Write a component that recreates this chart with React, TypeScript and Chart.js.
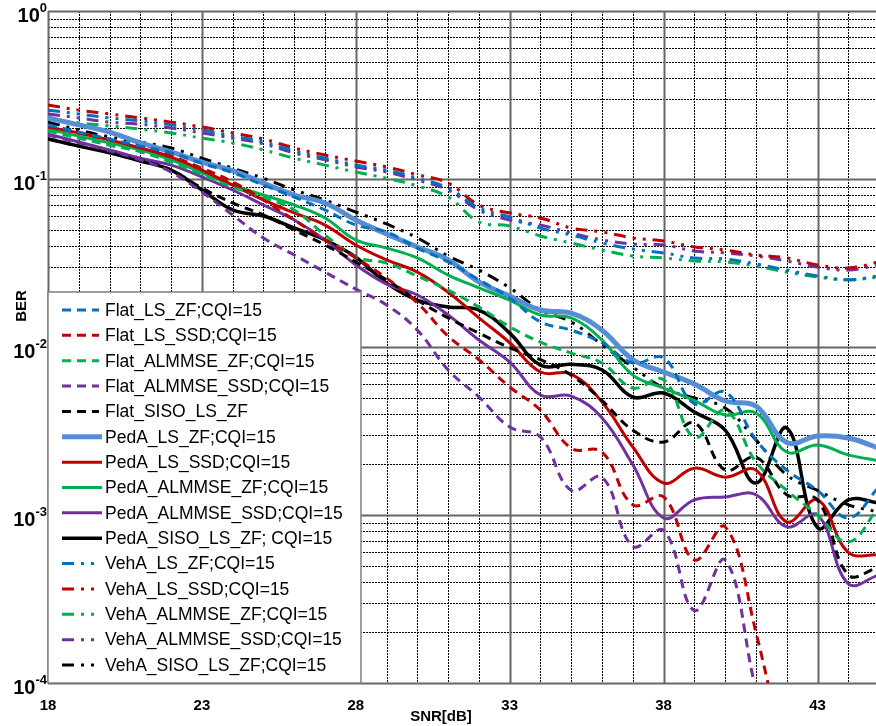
import React, { useEffect, useRef } from "react";
import { Chart, registerables } from "chart.js";
Chart.register(...registerables);

// ---------- data ----------
const snr = [18, 19, 20, 21, 22, 23, 24, 25, 26, 27, 28, 29, 30, 31, 32, 33, 34, 35, 36, 37, 38, 39, 40, 41, 42, 43, 44, 45];

const flatLsZf = [0.21, 0.19, 0.173, 0.157, 0.143, 0.124, 0.109, 0.092, 0.0781, 0.0654, 0.0532, 0.0484, 0.0388, 0.0321, 0.0251, 0.0196, 0.0141, 0.0126, 0.0106, 0.00803, 0.0086, 0.0046, 0.0054, 0.0028, 0.00185, 0.0014, 0.00096, 0.00147];
const flatLsSsd = [0.207, 0.188, 0.171, 0.155, 0.137, 0.116, 0.096, 0.075, 0.057, 0.0434, 0.0339, 0.0257, 0.0183, 0.0116, 0.0084, 0.00578, 0.0042, 0.0025, 0.00237, 0.00115, 0.00128, 0.00054, 0.00085, 0.0002, 0.00003];
const flatAlmmseZf = [0.193, 0.175, 0.159, 0.145, 0.126, 0.106, 0.0896, 0.0781, 0.0654, 0.0464, 0.0343, 0.0316, 0.0264, 0.0218, 0.0173, 0.0132, 0.0107, 0.0092, 0.00803, 0.0057, 0.0064, 0.0029, 0.0042, 0.00207, 0.0014, 0.001, 0.00069, 0.00112];
const flatAlmmseSsd = [0.183, 0.164, 0.147, 0.13, 0.11, 0.0837, 0.061, 0.0445, 0.0353, 0.0279, 0.0221, 0.0178, 0.0126, 0.0073, 0.00504, 0.00334, 0.00291, 0.0014, 0.00168, 0.00065, 0.00081, 0.00027, 0.00054, 0.000091, 0.00002];
const flatSisoLsZf = [0.173, 0.157, 0.145, 0.13, 0.113, 0.0884, 0.072, 0.061, 0.0497, 0.0405, 0.0321, 0.0251, 0.019, 0.0149, 0.0121, 0.0099, 0.0084, 0.0068, 0.0048, 0.0032, 0.00272, 0.00353, 0.00185, 0.00221, 0.00132, 0.00123, 0.00044, 0.00049];

const pedLsZf = [0.231, 0.21, 0.19, 0.164, 0.145, 0.126, 0.112, 0.0946, 0.0803, 0.072, 0.057, 0.0471, 0.0394, 0.033, 0.0244, 0.0201, 0.0166, 0.0159, 0.0126, 0.0084, 0.0071, 0.00602, 0.00477, 0.00445, 0.0027, 0.00295, 0.00287, 0.0025];
const pedLsSsd = [0.204, 0.188, 0.171, 0.153, 0.135, 0.113, 0.092, 0.075, 0.0628, 0.0532, 0.0405, 0.033, 0.0279, 0.0212, 0.0149, 0.0106, 0.0071, 0.0069, 0.0047, 0.00254, 0.00155, 0.0019, 0.00168, 0.00185, 0.00091, 0.00123, 0.0006, 0.00058];
const pedAlmmseZf = [0.198, 0.18, 0.164, 0.149, 0.13, 0.109, 0.092, 0.0803, 0.07, 0.0586, 0.0434, 0.0388, 0.0339, 0.0268, 0.0225, 0.019, 0.0155, 0.0149, 0.011, 0.0068, 0.0057, 0.0048, 0.00394, 0.00405, 0.00237, 0.00261, 0.00228, 0.0021];
const pedAlmmseSsd = [0.185, 0.166, 0.149, 0.133, 0.121, 0.103, 0.086, 0.07, 0.057, 0.0434, 0.0308, 0.0237, 0.0204, 0.0155, 0.011, 0.00814, 0.00518, 0.0051, 0.00378, 0.00199, 0.00096, 0.00123, 0.00128, 0.00132, 0.00085, 0.001, 0.00039, 0.00044];
const pedSisoLsZf = [0.173, 0.157, 0.143, 0.128, 0.113, 0.086, 0.0654, 0.0602, 0.0511, 0.0434, 0.0343, 0.024, 0.019, 0.0173, 0.0166, 0.0121, 0.0078, 0.0079, 0.0073, 0.00504, 0.00532, 0.0041, 0.0032, 0.00155, 0.0033, 0.00084, 0.00123, 0.00118];

const vehLsZf = [0.257, 0.244, 0.231, 0.222, 0.21, 0.196, 0.18, 0.166, 0.147, 0.133, 0.121, 0.113, 0.101, 0.0884, 0.0672, 0.0594, 0.0511, 0.0464, 0.0416, 0.0383, 0.0363, 0.0339, 0.0334, 0.0312, 0.0287, 0.0265, 0.0251, 0.0265];
const vehLsSsd = [0.276, 0.257, 0.244, 0.231, 0.218, 0.204, 0.188, 0.173, 0.153, 0.139, 0.128, 0.118, 0.106, 0.0946, 0.07, 0.0628, 0.0586, 0.0511, 0.0484, 0.0446, 0.0428, 0.0394, 0.0378, 0.0353, 0.0339, 0.0308, 0.0295, 0.0321];
const vehAlmmseZf = [0.228, 0.216, 0.207, 0.198, 0.188, 0.175, 0.164, 0.149, 0.133, 0.121, 0.11, 0.101, 0.0909, 0.0781, 0.0555, 0.0525, 0.0458, 0.0416, 0.0378, 0.0348, 0.0339, 0.0325, 0.0321, 0.0303, 0.0279, 0.0261, 0.0251, 0.0261];
const vehAlmmseSsd = [0.244, 0.231, 0.218, 0.212, 0.201, 0.188, 0.175, 0.162, 0.143, 0.13, 0.118, 0.11, 0.0986, 0.086, 0.0654, 0.057, 0.0532, 0.0477, 0.0434, 0.041, 0.0405, 0.0373, 0.0363, 0.0348, 0.0325, 0.0299, 0.0287, 0.0308];
const vehSisoLsZf = [0.218, 0.196, 0.178, 0.166, 0.153, 0.133, 0.116, 0.101, 0.086, 0.075, 0.0636, 0.054, 0.0446, 0.0348, 0.0287, 0.0225, 0.0166, 0.0141, 0.0103, 0.0076, 0.0057, 0.00497, 0.00433, 0.0028, 0.00173, 0.0014, 0.00115, 0.00104];

const xLabelValues = [18, 23, 28, 33, 38, 43];
const yDecadeExponents = [0, -1, -2, -3, -4];
const xTitle = "SNR[dB]";
const yTitle = "BER";

// ---------- styles ----------
type LineStyle = "dash" | "solid" | "dashdot";
const DASHES: Record<LineStyle, number[]> = {
  dash: [9, 6],
  solid: [],
  dashdot: [12, 7, 3, 7, 3, 7],
};

const seriesDefs: { label: string; values: number[]; color: string; style: LineStyle; width: number }[] = [
  { label: "Flat_LS_ZF;CQI=15", values: flatLsZf, color: "#0070C0", style: "dash", width: 3 },
  { label: "Flat_LS_SSD;CQI=15", values: flatLsSsd, color: "#C00000", style: "dash", width: 3 },
  { label: "Flat_ALMMSE_ZF;CQI=15", values: flatAlmmseZf, color: "#00B050", style: "dash", width: 3 },
  { label: "Flat_ALMMSE_SSD;CQI=15", values: flatAlmmseSsd, color: "#7030A0", style: "dash", width: 3 },
  { label: "Flat_SISO_LS_ZF", values: flatSisoLsZf, color: "#000000", style: "dash", width: 3 },
  { label: "PedA_LS_ZF;CQI=15", values: pedLsZf, color: "#558ED5", style: "solid", width: 5 },
  { label: "PedA_LS_SSD;CQI=15", values: pedLsSsd, color: "#C00000", style: "solid", width: 3 },
  { label: "PedA_ALMMSE_ZF;CQI=15", values: pedAlmmseZf, color: "#00B050", style: "solid", width: 3 },
  { label: "PedA_ALMMSE_SSD;CQI=15", values: pedAlmmseSsd, color: "#7030A0", style: "solid", width: 3 },
  { label: "PedA_SISO_LS_ZF; CQI=15", values: pedSisoLsZf, color: "#000000", style: "solid", width: 3.5 },
  { label: "VehA_LS_ZF;CQI=15", values: vehLsZf, color: "#0070C0", style: "dashdot", width: 3 },
  { label: "VehA_LS_SSD;CQI=15", values: vehLsSsd, color: "#C00000", style: "dashdot", width: 3 },
  { label: "VehA_ALMMSE_ZF;CQI=15", values: vehAlmmseZf, color: "#00B050", style: "dashdot", width: 3 },
  { label: "VehA_ALMMSE_SSD;CQI=15", values: vehAlmmseSsd, color: "#7030A0", style: "dashdot", width: 3 },
  { label: "VehA_SISO_LS_ZF;CQI=15", values: vehSisoLsZf, color: "#000000", style: "dashdot", width: 3 },
];

const FONT = '"Liberation Sans", Arial, sans-serif';

// ---------- plugins ----------
const gridPlugin = {
  id: "customGrid",
  beforeDatasetsDraw(chart: any) {
    const { ctx, chartArea: a, scales } = chart;
    const x = scales.x;
    const y = scales.y;
    ctx.save();
    const minor: number[][] = [];
    const major: number[][] = [];
    for (let v = Math.ceil(x.min); v <= x.max; v++) {
      const px = Math.round(x.getPixelForValue(v)) + 0.5;
      const seg = [px, a.top, px, a.bottom];
      if ((v - xLabelValues[0]) % 5 === 0) major.push(seg);
      else minor.push(seg);
    }
    for (let e = -4; e <= 0; e++) {
      for (let m = 1; m <= 9; m++) {
        const val = m * Math.pow(10, e);
        if (val > y.max * 1.0001 || val < y.min * 0.9999) continue;
        const py = Math.round(y.getPixelForValue(val)) + 0.5;
        const seg = [a.left, py, a.right, py];
        if (m === 1) major.push(seg);
        else minor.push(seg);
      }
    }
    ctx.lineWidth = 1;
    ctx.strokeStyle = "#000";
    ctx.setLineDash([2, 1]);
    for (const s of minor) {
      ctx.beginPath();
      ctx.moveTo(s[0], s[1]);
      ctx.lineTo(s[2], s[3]);
      ctx.stroke();
    }
    ctx.setLineDash([]);
    ctx.lineWidth = 2;
    ctx.strokeStyle = "#666";
    for (const s of major) {
      ctx.beginPath();
      ctx.moveTo(s[0], s[1]);
      ctx.lineTo(s[2], s[3]);
      ctx.stroke();
    }
    ctx.restore();
  },
};

const legendPlugin = {
  id: "insetLegend",
  afterDatasetsDraw(chart: any) {
    const { ctx, chartArea: a } = chart;
    const left = a.left;
    const right = a.left + 313;
    const bottom = a.bottom;
    const top = bottom - 391;
    ctx.save();
    ctx.fillStyle = "#ffffff";
    ctx.fillRect(left, top, right - left, bottom - top);
    ctx.strokeStyle = "#7f7f7f";
    ctx.lineWidth = 1.5;
    ctx.strokeRect(left, top, right - left, bottom - top);
    const ds = chart.data.datasets;
    const step = (bottom - top - 36) / (ds.length - 1);
    ctx.font = `17.5px ${FONT}`;
    ctx.textBaseline = "middle";
    ctx.textAlign = "left";
    ds.forEach((d: any, i: number) => {
      const cy = top + 18 + i * step;
      ctx.beginPath();
      ctx.setLineDash(d.borderDash || []);
      ctx.lineWidth = d.borderWidth;
      ctx.strokeStyle = d.borderColor;
      ctx.moveTo(left + 14, cy);
      ctx.lineTo(left + (d.borderDash && d.borderDash.length ? 51 : 54), cy);
      ctx.stroke();
      ctx.setLineDash([]);
      ctx.fillStyle = "#000";
      ctx.fillText(d.label, left + 57, cy + 1);
    });
    ctx.restore();
  },
};

const axisTextPlugin = {
  id: "axisText",
  afterDraw(chart: any) {
    const { ctx, chartArea: a, scales } = chart;
    const y = scales.y;
    ctx.save();
    ctx.fillStyle = "#000";
    ctx.textBaseline = "alphabetic";
    ctx.textAlign = "left";
    const baseFont = `bold 20px ${FONT}`;
    const expFont = `bold 13px ${FONT}`;
    yDecadeExponents.forEach((e) => {
      const py = y.getPixelForValue(Math.pow(10, e));
      ctx.font = expFont;
      const expText = String(e);
      const w2 = ctx.measureText(expText).width;
      ctx.font = baseFont;
      const w1 = ctx.measureText("10").width;
      const xr = a.left - 1;
      ctx.fillText("10", xr - w2 - w1, py + 11);
      ctx.font = expFont;
      ctx.fillText(expText, xr - w2, py + 1);
    });
    // x axis title
    ctx.textAlign = "center";
    ctx.textBaseline = "middle";
    ctx.font = `bold 15px ${FONT}`;
    ctx.fillText(xTitle, (a.left + a.right) / 2 - 21, a.bottom + 34);
    // y axis title
    ctx.translate(22, (a.top + a.bottom) / 2 - 41);
    ctx.rotate(-Math.PI / 2);
    ctx.fillText(yTitle, 0, 0);
    ctx.restore();
  },
};

export default function App() {
  const ref = useRef<HTMLCanvasElement | null>(null);
  useEffect(() => {
    if (!ref.current) return;
    const datasets = seriesDefs.map((s) => ({
      label: s.label,
      data: s.values.map((v, i) => ({ x: snr[i], y: v })),
      borderColor: s.color,
      backgroundColor: s.color,
      borderWidth: s.width,
      borderDash: DASHES[s.style],
      pointRadius: 0,
      pointHoverRadius: 0,
      tension: 0.4,
      fill: false,
    }));
    const chart = new Chart(ref.current, {
      type: "line",
      data: { datasets },
      options: {
        animation: false,
        responsive: true,
        maintainAspectRatio: false,
        layout: { padding: { top: 11, right: 0, left: 0, bottom: 0 } },
        plugins: { legend: { display: false }, tooltip: { enabled: false } },
        scales: {
          x: {
            type: "linear",
            min: 18,
            max: 44.9,
            grid: { display: false, drawTicks: true, tickLength: 14 },
            border: { display: false },
            afterFit: (s: any) => {
              s.height = 43;
            },
            ticks: {
              stepSize: 1,
              autoSkip: false,
              maxRotation: 0,
              padding: 0,
              color: "#000",
              font: { family: FONT, size: 15, weight: "bold" },
              callback: (v: any) => (xLabelValues.includes(Number(v)) ? String(v) : ""),
            },
          },
          y: {
            type: "logarithmic",
            min: 1e-4,
            max: 1,
            grid: { display: false },
            border: { display: false },
            ticks: { display: false },
            afterFit: (s: any) => {
              s.width = 48;
            },
          },
        },
      },
      plugins: [gridPlugin, legendPlugin, axisTextPlugin],
    } as any);
    return () => chart.destroy();
  }, []);
  return (
    <div style={{ position: "fixed", left: 0, top: 0, width: 876, height: 726, background: "#fff" }}>
      <canvas ref={ref} />
    </div>
  );
}
